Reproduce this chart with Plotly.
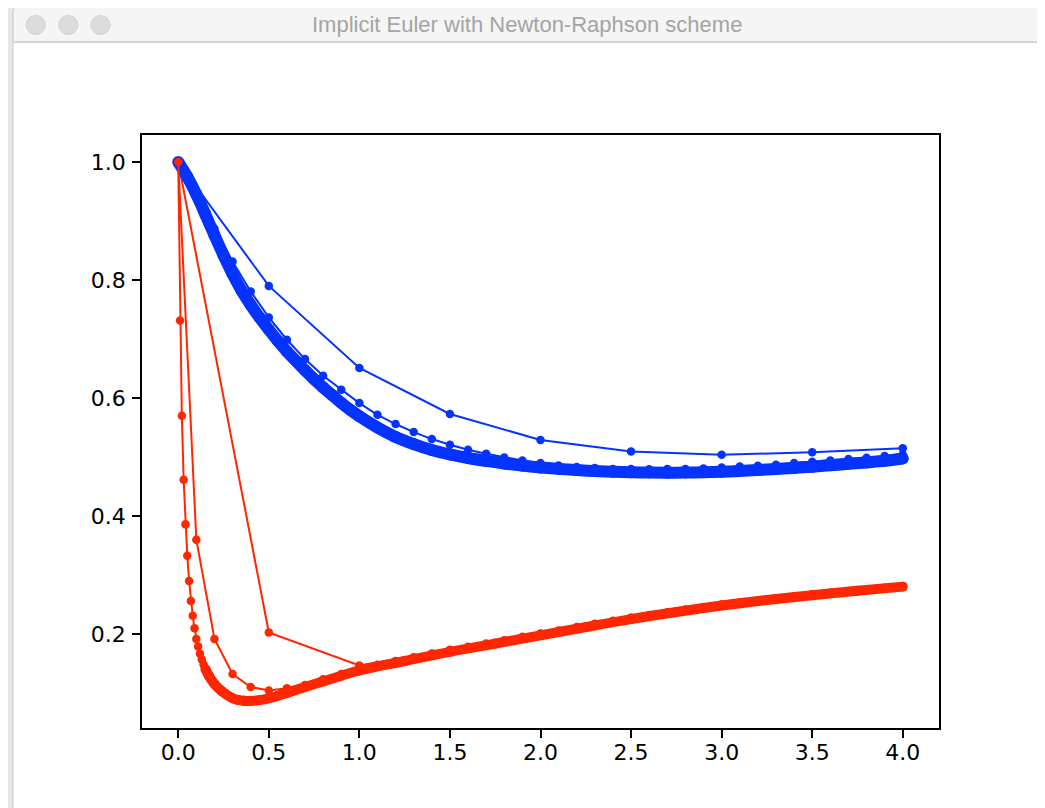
import plotly.graph_objects as go

# ---------------- data ----------------
# step h = 0.5
t_h05 = [0.0, 0.5, 1.0, 1.5, 2.0, 2.5, 3.0, 3.5, 4.0]
blue_h05 = [1.0, 0.790, 0.651, 0.573, 0.529, 0.5095, 0.504, 0.508, 0.515]
red_h05 = [1.0, 0.203, 0.147, 0.1735, 0.2012, 0.2280, 0.2500, 0.2672, 0.2815]

# step h = 0.1
t_h01 = [0.0, 0.1, 0.2, 0.3, 0.4, 0.5, 0.6, 0.7, 0.8, 0.9,
         1.0, 1.1, 1.2, 1.3, 1.4, 1.5, 1.6, 1.7, 1.8, 1.9,
         2.0, 2.1, 2.2, 2.3, 2.4, 2.5, 2.6, 2.7, 2.8, 2.9,
         3.0, 3.1, 3.2, 3.3, 3.4, 3.5, 3.6, 3.7, 3.8, 3.9, 4.0]
blue_h01 = [1.0, 0.948, 0.887, 0.8315, 0.7807, 0.7366, 0.6988, 0.666, 0.6378, 0.614,
            0.5915, 0.5717, 0.556, 0.5424, 0.5305, 0.521, 0.5124, 0.5056, 0.4993, 0.4942,
            0.4898, 0.4858, 0.483, 0.4813, 0.480, 0.4797, 0.4795, 0.4797, 0.4800, 0.4807,
            0.4824, 0.484, 0.4853, 0.487, 0.4898, 0.492, 0.4942, 0.4966, 0.4988, 0.5017, 0.5045]
red_h01 = [1.0, 0.360, 0.192, 0.1325, 0.1105, 0.1045, 0.1085, 0.1140, 0.1235, 0.1325,
           0.1410, 0.1480, 0.1545, 0.1610, 0.1672, 0.1728, 0.1785, 0.1842, 0.1898, 0.1954,
           0.2008, 0.2064, 0.2120, 0.2175, 0.2228, 0.2278, 0.2326, 0.2372, 0.2416, 0.2458,
           0.2498, 0.2535, 0.2571, 0.2605, 0.2638, 0.2670, 0.2700, 0.2730, 0.2758, 0.2785, 0.2812]

# finest step: dense curves (markers merge into a thick band)
t_fine_blue = [0.0, 0.05, 0.10, 0.15, 0.20, 0.25, 0.30, 0.35, 0.40, 0.45,
               0.50, 0.55, 0.60, 0.65, 0.70, 0.75, 0.80, 0.85, 0.90, 0.95,
               1.0, 1.1, 1.2, 1.3, 1.4, 1.5, 1.6, 1.7, 1.8, 1.9,
               2.0, 2.1, 2.2, 2.3, 2.4, 2.5, 2.6, 2.7, 2.8, 2.9,
               3.0, 3.1, 3.2, 3.3, 3.4, 3.5, 3.6, 3.7, 3.8, 3.9, 4.0]
blue_fine = [1.000, 0.975, 0.945, 0.911, 0.876, 0.842, 0.810, 0.782, 0.758, 0.736,
             0.716, 0.697, 0.679, 0.663, 0.647, 0.632, 0.618, 0.605, 0.592, 0.580,
             0.569, 0.550, 0.534, 0.522, 0.512, 0.5045, 0.4985, 0.4935, 0.4892, 0.4855,
             0.4825, 0.4800, 0.4780, 0.4763, 0.4750, 0.4742, 0.4737, 0.4735, 0.4737, 0.4743,
             0.4752, 0.4765, 0.4780, 0.4797, 0.4817, 0.4838, 0.4861, 0.4885, 0.4910, 0.4936, 0.4975]

# red fine curve, steep start (individual dots visible)
t_fine_red_a = [0.00, 0.01, 0.02, 0.03, 0.04, 0.05, 0.06, 0.07, 0.08, 0.09,
                0.10, 0.11, 0.12, 0.13, 0.14, 0.15, 0.16, 0.17, 0.18, 0.19,
                0.20, 0.21, 0.22, 0.23, 0.24, 0.25, 0.26, 0.27, 0.28, 0.29, 0.30]
red_fine_a = [1.000, 0.7315, 0.5700, 0.4615, 0.3860, 0.3330, 0.2900, 0.2560, 0.2310, 0.2100,
              0.1920, 0.1790, 0.1670, 0.1570, 0.1485, 0.1410, 0.1345, 0.1290, 0.1240, 0.1195,
              0.1155, 0.1120, 0.1088, 0.1060, 0.1035, 0.1012, 0.0990, 0.0970, 0.0952, 0.0935, 0.0920]
# red fine curve, remaining part (thick band)
t_fine_red_b = [0.15, 0.17, 0.20, 0.24, 0.30, 0.33, 0.36, 0.40, 0.45, 0.50, 0.55, 0.60,
                0.70, 0.80, 0.90, 1.00, 1.25, 1.50, 1.75, 2.00, 2.25, 2.50,
                2.75, 3.00, 3.25, 3.50, 3.75, 4.00]
red_fine_b = [0.1410, 0.1290, 0.1155, 0.1035, 0.0915, 0.0885, 0.0870, 0.0868, 0.0883, 0.0912, 0.0955, 0.1005,
              0.1105, 0.1200, 0.1295, 0.1385, 0.1545, 0.1700, 0.1840, 0.1980, 0.2120, 0.2255,
              0.2375, 0.2485, 0.2578, 0.2660, 0.2735, 0.2805]

x_ticks = [0.0, 0.5, 1.0, 1.5, 2.0, 2.5, 3.0, 3.5, 4.0]
x_tick_labels = ["0.0", "0.5", "1.0", "1.5", "2.0", "2.5", "3.0", "3.5", "4.0"]
y_ticks = [0.2, 0.4, 0.6, 0.8, 1.0]
y_tick_labels = ["0.2", "0.4", "0.6", "0.8", "1.0"]

window_title = "Implicit Euler with Newton-Raphson scheme"

# ---------------- styling ----------------
BLUE = "#0433ff"
RED = "#ff2600"
OFF = 8                      # page body margin of the html page
W, H = 1045 - OFF, 808 - OFF
L, T = 142 - OFF, 135 - OFF
PW, PH = 797, 593
R, B = W - L - PW, H - T - PH


def xp(px):
    """page pixel x -> paper x"""
    return (px - OFF - L) / PW


def yp(py):
    """page pixel y -> paper y"""
    return 1 - (py - OFF - T) / PH


fig = go.Figure()


def thin(x, y, color):
    fig.add_trace(go.Scatter(x=x, y=y, mode="lines+markers",
                             line=dict(color=color, width=2),
                             marker=dict(color=color, size=8.5),
                             hoverinfo="skip", showlegend=False))


def band(x, y, color, w):
    fig.add_trace(go.Scatter(x=x, y=y, mode="lines+markers",
                             line=dict(color=color, width=w, shape="spline", smoothing=1.0),
                             marker=dict(color=color, size=w),
                             hoverinfo="skip", showlegend=False))


thin(t_h05, blue_h05, BLUE)
thin(t_h05, red_h05, RED)
thin(t_h01, blue_h01, BLUE)
thin(t_h01, red_h01, RED)
band(t_fine_blue, blue_fine, BLUE, 12)
band(t_fine_red_b, red_fine_b, RED, 10)
thin(t_fine_red_a, red_fine_a, RED)

# ---------------- window chrome ----------------
shapes = []
shapes.append(dict(type="rect", xref="paper", yref="paper",
                   x0=xp(13), x1=xp(1041), y0=yp(812), y1=yp(42),
                   fillcolor="white", line=dict(color="#c8c8c8", width=1), layer="below"))
r = 5
path = (f"M {xp(13)} {yp(42)} L {xp(13)} {yp(7 + r)} "
        f"Q {xp(13)} {yp(7)} {xp(13 + r)} {yp(7)} "
        f"L {xp(1041 - r)} {yp(7)} Q {xp(1041)} {yp(7)} {xp(1041)} {yp(7 + r)} "
        f"L {xp(1041)} {yp(42)} Z")
shapes.append(dict(type="path", xref="paper", yref="paper", path=path,
                   fillcolor="#f5f5f5", line=dict(color="#c6c6c6", width=1), layer="below"))
shapes.append(dict(type="line", xref="paper", yref="paper",
                   x0=xp(13), x1=xp(1041), y0=yp(42), y1=yp(42),
                   line=dict(color="#d0d0d0", width=1), layer="below"))
for cx in (35.7, 68.3, 100.5):
    shapes.append(dict(type="circle", xref="paper", yref="paper",
                       x0=xp(cx - 9.6), x1=xp(cx + 9.6), y0=yp(25 + 9.6), y1=yp(25 - 9.6),
                       fillcolor="#dcdcdc", line=dict(color="#d2d2d2", width=1), layer="below"))

fig.update_layout(
    width=W, height=H, autosize=False,
    margin=dict(l=L, r=R, t=T, b=B, pad=0),
    paper_bgcolor="#e6e6e6", plot_bgcolor="white",
    shapes=shapes,
    annotations=[dict(text=window_title, xref="paper", yref="paper",
                      x=xp(527), y=yp(25), xanchor="center", yanchor="middle",
                      showarrow=False,
                      font=dict(family="Liberation Sans", size=22, color="#a4a4a4"))],
    font=dict(family="DejaVu Sans", size=22, color="black"),
)
axis_common = dict(showline=True, linecolor="black", linewidth=1.6, mirror=True,
                   ticks="outside", ticklen=8, tickwidth=1.6, tickcolor="black",
                   showgrid=False, zeroline=False,
                   tickfont=dict(family="DejaVu Sans", size=22, color="black"))
fig.update_xaxes(range=[-0.2, 4.2], tickmode="array", tickvals=x_ticks,
                 ticktext=x_tick_labels, ticklabelstandoff=-4, **axis_common)
fig.update_yaxes(range=[0.0410, 1.0457], tickmode="array", tickvals=y_ticks,
                 ticktext=y_tick_labels, ticklabelstandoff=2, **axis_common)

fig.write_html("out.html")
